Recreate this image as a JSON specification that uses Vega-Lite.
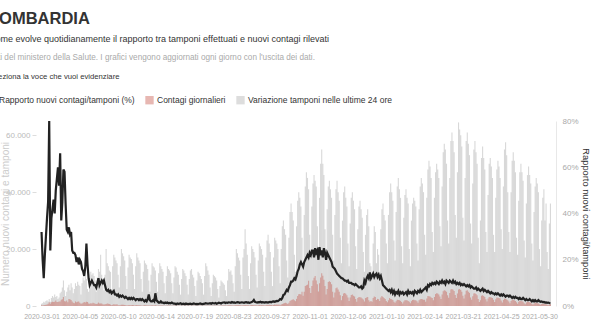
{
"$schema":"https://vega.github.io/schema/vega-lite/v6.json",
"autosize":{"type":"none"},
"padding":{"left":36,"top":121,"right":37,"bottom":24},
"width":520,"height":185,
"background":"white",
"config":{"font":"Liberation Sans, sans-serif","view":{"stroke":null}},
"title":{"text":"LOMBARDIA","subtitle":"Come evolve quotidianamente il rapporto tra tamponi effettuati e nuovi contagi rilevati","anchor":"start","frame":"group","dx":-47,"offset":8,"fontSize":16.5,"fontWeight":"bold","color":"#333","subtitleFontSize":9,"subtitleColor":"#333","subtitlePadding":8},
"data":{"values":[
{"d":"2020-03-01","t":0.8,"c":0.25,"r":32},{"d":"2020-03-02","t":1,"c":0.2,"r":20},{"d":"2020-03-03","t":1.5,"c":0.3,"r":12},{"d":"2020-03-04","t":1.2,"c":0.35,"r":22},{"d":"2020-03-05","t":1.8,"c":0.4,"r":30},{"d":"2020-03-06","t":2,"c":0.5,"r":38},{"d":"2020-03-07","t":1.6,"c":0.8,"r":45},
{"d":"2020-03-08","t":2.5,"c":1.3,"r":80},{"d":"2020-03-09","t":1.5,"c":0.8,"r":24},{"d":"2020-03-10","t":2.8,"c":1.3,"r":38},{"d":"2020-03-11","t":3.5,"c":1.5,"r":42},{"d":"2020-03-12","t":3,"c":1.4,"r":46},{"d":"2020-03-13","t":4,"c":1.5,"r":40},{"d":"2020-03-14","t":3.2,"c":1.9,"r":50},
{"d":"2020-03-15","t":3.5,"c":1.4,"r":55},{"d":"2020-03-16","t":2.5,"c":1.4,"r":60},{"d":"2020-03-17","t":3,"c":1.6,"r":52},{"d":"2020-03-18","t":4.5,"c":1.6,"r":66},{"d":"2020-03-19","t":5,"c":2.2,"r":37},{"d":"2020-03-20","t":6.5,"c":2.4,"r":45},{"d":"2020-03-21","t":9,"c":3.2,"r":59},
{"d":"2020-03-22","t":5.5,"c":1.7,"r":58},{"d":"2020-03-23","t":3.5,"c":1.6,"r":44},{"d":"2020-03-24","t":5,"c":1.9,"r":33},{"d":"2020-03-25","t":6.5,"c":1.3,"r":32},{"d":"2020-03-26","t":7.5,"c":2.5,"r":34},{"d":"2020-03-27","t":5.5,"c":2.4,"r":31},{"d":"2020-03-28","t":8,"c":2.1,"r":32},
{"d":"2020-03-29","t":6.5,"c":1.6,"r":24},{"d":"2020-03-30","t":4.5,"c":1.1,"r":23},{"d":"2020-03-31","t":6,"c":1,"r":23},
{"d":"2020-04-01","t":8,"c":1.6,"r":22},{"d":"2020-04-02","t":7,"c":1.3,"r":19},{"d":"2020-04-03","t":8.5,"c":1.5,"r":21},{"d":"2020-04-04","t":7.5,"c":1.6,"r":18},{"d":"2020-04-05","t":7,"c":1.1,"r":20},{"d":"2020-04-06","t":4,"c":0.8,"r":19},{"d":"2020-04-07","t":8,"c":0.9,"r":16},{"d":"2020-04-08","t":10,"c":1.1,"r":15},{"d":"2020-04-09","t":9,"c":1.4,"r":13},{"d":"2020-04-10","t":10.5,"c":1.2,"r":17},
{"d":"2020-04-11","t":9.5,"c":1.5,"r":27},{"d":"2020-04-12","t":6,"c":1.4,"r":18},{"d":"2020-04-13","t":5,"c":0.9,"r":12},{"d":"2020-04-14","t":9,"c":0.8,"r":9},{"d":"2020-04-15","t":12,"c":1,"r":10},{"d":"2020-04-16","t":11,"c":0.9,"r":11},{"d":"2020-04-17","t":11.5,"c":1.1,"r":10},{"d":"2020-04-18","t":10.5,"c":1,"r":9},{"d":"2020-04-19","t":9,"c":0.8,"r":9},{"d":"2020-04-20","t":5,"c":0.7,"r":8},
{"d":"2020-04-21","t":10,"c":0.8,"r":10},{"d":"2020-04-22","t":13,"c":1.2,"r":12},{"d":"2020-04-23","t":12,"c":0.9,"r":9},{"d":"2020-04-24","t":18,"c":0.9,"r":10},{"d":"2020-04-25","t":11,"c":0.9,"r":11},{"d":"2020-04-26","t":9.5,"c":0.6,"r":10},{"d":"2020-04-27","t":5.5,"c":0.5,"r":11},{"d":"2020-04-28","t":11,"c":0.6,"r":9},{"d":"2020-04-29","t":20,"c":0.7,"r":7},{"d":"2020-04-30","t":15,"c":0.9,"r":6.5},
{"d":"2020-05-01","t":14,"c":0.8,"r":7},{"d":"2020-05-02","t":12.5,"c":0.7,"r":6},{"d":"2020-05-03","t":12,"c":0.5,"r":6.5},{"d":"2020-05-04","t":6,"c":0.3,"r":5.5},{"d":"2020-05-05","t":14,"c":0.45,"r":6},{"d":"2020-05-06","t":18,"c":0.6,"r":6.5},{"d":"2020-05-07","t":17,"c":0.55,"r":5},{"d":"2020-05-08","t":16,"c":0.5,"r":5},{"d":"2020-05-09","t":15,"c":0.6,"r":4.5},{"d":"2020-05-10","t":11,"c":0.3,"r":5},
{"d":"2020-05-11","t":6.5,"c":0.25,"r":4},{"d":"2020-05-12","t":14,"c":0.3,"r":4.5},{"d":"2020-05-13","t":20,"c":0.4,"r":4},{"d":"2020-05-14","t":18.5,"c":0.45,"r":4.5},{"d":"2020-05-15","t":17.5,"c":0.4,"r":4},{"d":"2020-05-16","t":16,"c":0.35,"r":3.5},{"d":"2020-05-17","t":10.5,"c":0.3,"r":4},{"d":"2020-05-18","t":6,"c":0.2,"r":3.5},{"d":"2020-05-19","t":13.5,"c":0.3,"r":3},{"d":"2020-05-20","t":18,"c":0.35,"r":3.5},
{"d":"2020-05-21","t":17,"c":0.3,"r":3},{"d":"2020-05-22","t":16.5,"c":0.3,"r":3.5},{"d":"2020-05-23","t":15,"c":0.35,"r":3},{"d":"2020-05-24","t":11,"c":0.3,"r":3.5},{"d":"2020-05-25","t":6,"c":0.15,"r":3},{"d":"2020-05-26","t":14,"c":0.25,"r":2.5},{"d":"2020-05-27","t":18.5,"c":0.35,"r":3},{"d":"2020-05-28","t":17,"c":0.3,"r":3},{"d":"2020-05-29","t":16,"c":0.25,"r":2.5},{"d":"2020-05-30","t":15,"c":0.3,"r":3},{"d":"2020-05-31","t":9.5,"c":0.2,"r":2.5},
{"d":"2020-06-01","t":5,"c":0.1,"r":3},{"d":"2020-06-02","t":12,"c":0.2,"r":2.5},{"d":"2020-06-03","t":16,"c":0.3,"r":2},{"d":"2020-06-04","t":15,"c":0.25,"r":2.5},{"d":"2020-06-05","t":14.5,"c":0.2,"r":2},{"d":"2020-06-06","t":13,"c":0.2,"r":3},{"d":"2020-06-07","t":9,"c":0.2,"r":5},{"d":"2020-06-08","t":5,"c":0.15,"r":2.5},{"d":"2020-06-09","t":11,"c":0.2,"r":2},{"d":"2020-06-10","t":15,"c":0.25,"r":2},
{"d":"2020-06-11","t":14,"c":0.2,"r":2.5},{"d":"2020-06-12","t":13.5,"c":0.2,"r":2},{"d":"2020-06-13","t":12.5,"c":0.3,"r":5.5},{"d":"2020-06-14","t":8.5,"c":0.15,"r":2.5},{"d":"2020-06-15","t":5,"c":0.1,"r":2},{"d":"2020-06-16","t":11.5,"c":0.15,"r":1.5},{"d":"2020-06-17","t":15,"c":0.2,"r":1.5},{"d":"2020-06-18","t":14,"c":0.15,"r":2},{"d":"2020-06-19","t":13,"c":0.2,"r":1.5},{"d":"2020-06-20","t":12,"c":0.15,"r":1.5},
{"d":"2020-06-21","t":8,"c":0.1,"r":1.2},{"d":"2020-06-22","t":4.5,"c":0.08,"r":1.5},{"d":"2020-06-23","t":10.5,"c":0.12,"r":1.3},{"d":"2020-06-24","t":14,"c":0.15,"r":1.5},{"d":"2020-06-25","t":13,"c":0.13,"r":1.2},{"d":"2020-06-26","t":12.5,"c":0.15,"r":1.3},{"d":"2020-06-27","t":11.5,"c":0.12,"r":1.2},{"d":"2020-06-28","t":8,"c":0.1,"r":1.5},{"d":"2020-06-29","t":4.5,"c":0.06,"r":1.2},{"d":"2020-06-30","t":10,"c":0.1,"r":1},
{"d":"2020-07-01","t":14,"c":0.15,"r":1},{"d":"2020-07-02","t":13.5,"c":0.12,"r":0.8},{"d":"2020-07-03","t":12,"c":0.12,"r":1.1},{"d":"2020-07-04","t":11,"c":0.1,"r":0.9},{"d":"2020-07-05","t":7.5,"c":0.08,"r":1},{"d":"2020-07-06","t":4,"c":0.06,"r":1.2},{"d":"2020-07-07","t":9.5,"c":0.1,"r":0.8},{"d":"2020-07-08","t":13,"c":0.12,"r":0.9},{"d":"2020-07-09","t":12.5,"c":0.1,"r":1},{"d":"2020-07-10","t":11.5,"c":0.1,"r":0.8},
{"d":"2020-07-11","t":10.5,"c":0.1,"r":1.1},{"d":"2020-07-12","t":7.5,"c":0.08,"r":0.9},{"d":"2020-07-13","t":4,"c":0.05,"r":0.8},{"d":"2020-07-14","t":9.5,"c":0.1,"r":0.9},{"d":"2020-07-15","t":12.5,"c":0.12,"r":1},{"d":"2020-07-16","t":13,"c":0.1,"r":0.8},{"d":"2020-07-17","t":11,"c":0.11,"r":0.9},{"d":"2020-07-18","t":10,"c":0.1,"r":1.1},{"d":"2020-07-19","t":7,"c":0.08,"r":1},{"d":"2020-07-20","t":3.5,"c":0.06,"r":0.8},
{"d":"2020-07-21","t":9,"c":0.1,"r":0.9},{"d":"2020-07-22","t":12,"c":0.1,"r":0.8},{"d":"2020-07-23","t":11.5,"c":0.12,"r":1},{"d":"2020-07-24","t":10.5,"c":0.1,"r":1.1},{"d":"2020-07-25","t":9.5,"c":0.09,"r":0.9},{"d":"2020-07-26","t":8,"c":0.07,"r":0.8},{"d":"2020-07-27","t":4,"c":0.05,"r":0.9},{"d":"2020-07-28","t":10.5,"c":0.1,"r":1},{"d":"2020-07-29","t":15,"c":0.12,"r":1.2},{"d":"2020-07-30","t":14,"c":0.12,"r":1.1},{"d":"2020-07-31","t":12.5,"c":0.1,"r":1},
{"d":"2020-08-01","t":11,"c":0.1,"r":1.1},{"d":"2020-08-02","t":6.5,"c":0.08,"r":1.2},{"d":"2020-08-03","t":3.5,"c":0.06,"r":1},{"d":"2020-08-04","t":8,"c":0.1,"r":1.3},{"d":"2020-08-05","t":11,"c":0.12,"r":1.2},{"d":"2020-08-06","t":10.5,"c":0.13,"r":1.1},{"d":"2020-08-07","t":10,"c":0.12,"r":1.3},{"d":"2020-08-08","t":9,"c":0.13,"r":1},{"d":"2020-08-09","t":6,"c":0.12,"r":1.2},{"d":"2020-08-10","t":3,"c":0.08,"r":1.4},
{"d":"2020-08-11","t":7,"c":0.12,"r":1.3},{"d":"2020-08-12","t":9,"c":0.15,"r":1.1},{"d":"2020-08-13","t":8.5,"c":0.18,"r":1.4},{"d":"2020-08-14","t":8,"c":0.15,"r":1.5},{"d":"2020-08-15","t":7.5,"c":0.18,"r":1.6},{"d":"2020-08-16","t":5.5,"c":0.15,"r":1.3},{"d":"2020-08-17","t":3.5,"c":0.1,"r":1.5},{"d":"2020-08-18","t":9,"c":0.2,"r":1.4},{"d":"2020-08-19","t":13,"c":0.25,"r":1.6},{"d":"2020-08-20","t":12,"c":0.22,"r":1.5},
{"d":"2020-08-21","t":12.5,"c":0.25,"r":1.4},{"d":"2020-08-22","t":11,"c":0.2,"r":1.7},{"d":"2020-08-23","t":8,"c":0.2,"r":1.5},{"d":"2020-08-24","t":5,"c":0.15,"r":1.6},{"d":"2020-08-25","t":14,"c":0.25,"r":1.4},{"d":"2020-08-26","t":20,"c":0.3,"r":1.5},{"d":"2020-08-27","t":18.5,"c":0.28,"r":1.7},{"d":"2020-08-28","t":17,"c":0.3,"r":1.6},{"d":"2020-08-29","t":16,"c":0.25,"r":1.4},{"d":"2020-08-30","t":11,"c":0.25,"r":1.5},{"d":"2020-08-31","t":6,"c":0.15,"r":1.6},
{"d":"2020-09-01","t":17,"c":0.25,"r":1.5},{"d":"2020-09-02","t":20,"c":0.3,"r":1.4},{"d":"2020-09-03","t":27,"c":0.35,"r":1.6},{"d":"2020-09-04","t":22,"c":0.3,"r":1.7},{"d":"2020-09-05","t":18,"c":0.28,"r":1.5},{"d":"2020-09-06","t":10.5,"c":0.25,"r":1.6},{"d":"2020-09-07","t":6,"c":0.15,"r":1.4},{"d":"2020-09-08","t":15,"c":0.25,"r":1.5},{"d":"2020-09-09","t":21,"c":0.35,"r":1.7},{"d":"2020-09-10","t":20,"c":0.35,"r":2},
{"d":"2020-09-11","t":19,"c":0.3,"r":2.6},{"d":"2020-09-12","t":17,"c":0.3,"r":1.8},{"d":"2020-09-13","t":11,"c":0.3,"r":1.6},{"d":"2020-09-14","t":6.5,"c":0.15,"r":1.5},{"d":"2020-09-15","t":16,"c":0.25,"r":1.7},{"d":"2020-09-16","t":22,"c":0.35,"r":1.6},{"d":"2020-09-17","t":21,"c":0.3,"r":1.8},{"d":"2020-09-18","t":20,"c":0.3,"r":1.5},{"d":"2020-09-19","t":18,"c":0.3,"r":1.7},{"d":"2020-09-20","t":12,"c":0.3,"r":1.6},
{"d":"2020-09-21","t":7,"c":0.2,"r":1.5},{"d":"2020-09-22","t":17,"c":0.3,"r":1.7},{"d":"2020-09-23","t":23,"c":0.4,"r":1.6},{"d":"2020-09-24","t":25,"c":0.35,"r":1.5},{"d":"2020-09-25","t":22,"c":0.4,"r":1.7},{"d":"2020-09-26","t":19,"c":0.35,"r":1.8},{"d":"2020-09-27","t":12,"c":0.35,"r":1.6},{"d":"2020-09-28","t":7,"c":0.2,"r":1.9},{"d":"2020-09-29","t":17,"c":0.35,"r":2},{"d":"2020-09-30","t":24,"c":0.5,"r":1.8},
{"d":"2020-10-01","t":23,"c":0.45,"r":2},{"d":"2020-10-02","t":22,"c":0.5,"r":2.2},{"d":"2020-10-03","t":20,"c":0.45,"r":2.1},{"d":"2020-10-04","t":14,"c":0.5,"r":2.5},{"d":"2020-10-05","t":8,"c":0.3,"r":3},{"d":"2020-10-06","t":20,"c":0.55,"r":2.8},{"d":"2020-10-07","t":28,"c":0.7,"r":3.5},{"d":"2020-10-08","t":30,"c":0.9,"r":4.8},{"d":"2020-10-09","t":27,"c":1,"r":5},{"d":"2020-10-10","t":25,"c":1.1,"r":6},
{"d":"2020-10-11","t":16,"c":1,"r":7},{"d":"2020-10-12","t":10,"c":0.7,"r":6.5},{"d":"2020-10-13","t":24,"c":1.1,"r":8},{"d":"2020-10-14","t":33,"c":1.8,"r":9},{"d":"2020-10-15","t":36,"c":2,"r":10.5},{"d":"2020-10-16","t":33,"c":2.2,"r":10.5},{"d":"2020-10-17","t":30,"c":2.4,"r":11},{"d":"2020-10-18","t":18,"c":2,"r":12},{"d":"2020-10-19","t":12,"c":1.7,"r":11.5},{"d":"2020-10-20","t":28,"c":2.5,"r":13},
{"d":"2020-10-21","t":37,"c":3.5,"r":15},{"d":"2020-10-22","t":40,"c":4.1,"r":16},{"d":"2020-10-23","t":38,"c":4.2,"r":18},{"d":"2020-10-24","t":35,"c":4,"r":19},{"d":"2020-10-25","t":24,"c":5,"r":18},{"d":"2020-10-26","t":15,"c":3.6,"r":17},{"d":"2020-10-27","t":32,"c":5,"r":19},{"d":"2020-10-28","t":42,"c":7,"r":20},{"d":"2020-10-29","t":47,"c":7.3,"r":21},{"d":"2020-10-30","t":45,"c":7.5,"r":22},{"d":"2020-10-31","t":41,"c":8.9,"r":21},
{"d":"2020-11-01","t":25,"c":6.3,"r":23},{"d":"2020-11-02","t":17,"c":4.6,"r":22},{"d":"2020-11-03","t":35,"c":7,"r":24},{"d":"2020-11-04","t":43,"c":9,"r":24},{"d":"2020-11-05","t":46,"c":9.9,"r":21},{"d":"2020-11-06","t":44,"c":10.5,"r":25},{"d":"2020-11-07","t":42,"c":9,"r":23},{"d":"2020-11-08","t":28,"c":7.6,"r":24},{"d":"2020-11-09","t":20,"c":5.1,"r":20},{"d":"2020-11-10","t":38,"c":8,"r":25.5},
{"d":"2020-11-11","t":50,"c":10,"r":22},{"d":"2020-11-12","t":55,"c":11.5,"r":24},{"d":"2020-11-13","t":50,"c":10.6,"r":21},{"d":"2020-11-14","t":46,"c":9.2,"r":25},{"d":"2020-11-15","t":27,"c":7,"r":23},{"d":"2020-11-16","t":18,"c":4,"r":20},{"d":"2020-11-17","t":34,"c":6,"r":23},{"d":"2020-11-18","t":42,"c":8.4,"r":22},{"d":"2020-11-19","t":44,"c":8.7,"r":21},{"d":"2020-11-20","t":41,"c":8.4,"r":20},
{"d":"2020-11-21","t":38,"c":7.6,"r":19},{"d":"2020-11-22","t":25,"c":5,"r":17},{"d":"2020-11-23","t":16,"c":3,"r":16.5},{"d":"2020-11-24","t":32,"c":4.7,"r":16},{"d":"2020-11-25","t":41,"c":6.2,"r":15},{"d":"2020-11-26","t":44,"c":6.5,"r":14},{"d":"2020-11-27","t":40,"c":5.8,"r":13.5},{"d":"2020-11-28","t":37,"c":5,"r":13},{"d":"2020-11-29","t":24,"c":3.8,"r":12.5},{"d":"2020-11-30","t":15,"c":2,"r":12},
{"d":"2020-12-01","t":30,"c":3.5,"r":12},{"d":"2020-12-02","t":40,"c":4.4,"r":11.5},{"d":"2020-12-03","t":42,"c":4.6,"r":11},{"d":"2020-12-04","t":38,"c":4.3,"r":11},{"d":"2020-12-05","t":35,"c":3.8,"r":10.5},{"d":"2020-12-06","t":22,"c":3,"r":11},{"d":"2020-12-07","t":14,"c":1.8,"r":10},{"d":"2020-12-08","t":29,"c":3,"r":10},{"d":"2020-12-09","t":38,"c":3.9,"r":10},{"d":"2020-12-10","t":40,"c":4,"r":9.5},
{"d":"2020-12-11","t":37,"c":3.6,"r":9.5},{"d":"2020-12-12","t":34,"c":3.3,"r":9},{"d":"2020-12-13","t":21,"c":2.5,"r":9.5},{"d":"2020-12-14","t":13,"c":1.5,"r":9},{"d":"2020-12-15","t":27,"c":2.8,"r":8.5},{"d":"2020-12-16","t":35,"c":3.2,"r":8},{"d":"2020-12-17","t":37,"c":3.1,"r":8},{"d":"2020-12-18","t":34,"c":3,"r":8.5},{"d":"2020-12-19","t":31,"c":2.6,"r":7.5},{"d":"2020-12-20","t":19,"c":2.3,"r":8},
{"d":"2020-12-21","t":12,"c":1.6,"r":11},{"d":"2020-12-22","t":25,"c":2.8,"r":10},{"d":"2020-12-23","t":32,"c":3,"r":12},{"d":"2020-12-24","t":34,"c":3.2,"r":13},{"d":"2020-12-25","t":28,"c":2,"r":12},{"d":"2020-12-26","t":15,"c":1.5,"r":14.5},{"d":"2020-12-27","t":14,"c":1.8,"r":12},{"d":"2020-12-28","t":10,"c":1.5,"r":13},{"d":"2020-12-29","t":22,"c":2.8,"r":14},{"d":"2020-12-30","t":28,"c":3.3,"r":12.5},{"d":"2020-12-31","t":26,"c":3.2,"r":13.5},
{"d":"2021-01-01","t":15,"c":2.1,"r":14},{"d":"2021-01-02","t":20,"c":2.5,"r":12.5},{"d":"2021-01-03","t":18,"c":2.4,"r":13.5},{"d":"2021-01-04","t":12,"c":1.8,"r":12},{"d":"2021-01-05","t":27,"c":3,"r":13},{"d":"2021-01-06","t":34,"c":3.5,"r":11},{"d":"2021-01-07","t":36,"c":3.2,"r":9},{"d":"2021-01-08","t":32,"c":2.8,"r":8.5},{"d":"2021-01-09","t":30,"c":2.5,"r":8},{"d":"2021-01-10","t":22,"c":1.8,"r":7.5},
{"d":"2021-01-11","t":15,"c":1.3,"r":7},{"d":"2021-01-12","t":32,"c":2,"r":6.5},{"d":"2021-01-13","t":40,"c":2.8,"r":7},{"d":"2021-01-14","t":43,"c":2.5,"r":6},{"d":"2021-01-15","t":40,"c":2.4,"r":7},{"d":"2021-01-16","t":37,"c":2.1,"r":5.5},{"d":"2021-01-17","t":23,"c":1.5,"r":6.5},{"d":"2021-01-18","t":16,"c":1.1,"r":5},{"d":"2021-01-19","t":33,"c":1.7,"r":6},{"d":"2021-01-20","t":42,"c":2.2,"r":5.5},
{"d":"2021-01-21","t":45,"c":2.1,"r":6.5},{"d":"2021-01-22","t":41,"c":2,"r":5},{"d":"2021-01-23","t":38,"c":1.8,"r":6},{"d":"2021-01-24","t":21,"c":1.4,"r":5.5},{"d":"2021-01-25","t":15,"c":0.9,"r":6},{"d":"2021-01-26","t":31,"c":1.6,"r":5},{"d":"2021-01-27","t":39,"c":2,"r":5.5},{"d":"2021-01-28","t":41,"c":2,"r":6},{"d":"2021-01-29","t":38,"c":2,"r":5},{"d":"2021-01-30","t":36,"c":1.8,"r":6.5},{"d":"2021-01-31","t":20,"c":1.5,"r":5.5},
{"d":"2021-02-01","t":14,"c":1,"r":6},{"d":"2021-02-02","t":30,"c":1.7,"r":5.5},{"d":"2021-02-03","t":36,"c":2.1,"r":6},{"d":"2021-02-04","t":38,"c":2.2,"r":5},{"d":"2021-02-05","t":37,"c":2,"r":6.5},{"d":"2021-02-06","t":35,"c":2,"r":6},{"d":"2021-02-07","t":22,"c":1.7,"r":5.5},{"d":"2021-02-08","t":16,"c":1.1,"r":6.5},{"d":"2021-02-09","t":34,"c":2,"r":6},{"d":"2021-02-10","t":42,"c":2.4,"r":7},
{"d":"2021-02-11","t":45,"c":2.5,"r":6},{"d":"2021-02-12","t":43,"c":2.4,"r":6.5},{"d":"2021-02-13","t":40,"c":2.2,"r":7},{"d":"2021-02-14","t":25,"c":2.2,"r":7.5},{"d":"2021-02-15","t":18,"c":1.5,"r":8},{"d":"2021-02-16","t":38,"c":2.6,"r":7},{"d":"2021-02-17","t":48,"c":3.5,"r":9},{"d":"2021-02-18","t":51,"c":3.4,"r":8.5},{"d":"2021-02-19","t":49,"c":3.3,"r":9.5},{"d":"2021-02-20","t":45,"c":3,"r":9},
{"d":"2021-02-21","t":26,"c":2.8,"r":10},{"d":"2021-02-22","t":19,"c":2,"r":9.5},{"d":"2021-02-23","t":38,"c":3.2,"r":10},{"d":"2021-02-24","t":47,"c":4.2,"r":9.5},{"d":"2021-02-25","t":50,"c":4.5,"r":10.5},{"d":"2021-02-26","t":48,"c":4.4,"r":10},{"d":"2021-02-27","t":45,"c":4,"r":9.5},{"d":"2021-02-28","t":28,"c":3.3,"r":10.5},
{"d":"2021-03-01","t":21,"c":2.5,"r":10},{"d":"2021-03-02","t":42,"c":4,"r":11},{"d":"2021-03-03","t":54,"c":5.2,"r":10},{"d":"2021-03-04","t":57,"c":5.5,"r":10.5},{"d":"2021-03-05","t":55,"c":5.4,"r":9.5},{"d":"2021-03-06","t":50,"c":5,"r":11},{"d":"2021-03-07","t":30,"c":3.8,"r":10.5},{"d":"2021-03-08","t":22,"c":2.9,"r":10},{"d":"2021-03-09","t":45,"c":4.6,"r":11},{"d":"2021-03-10","t":58,"c":5.8,"r":10.5},
{"d":"2021-03-11","t":61,"c":6,"r":10},{"d":"2021-03-12","t":58,"c":5.7,"r":11},{"d":"2021-03-13","t":54,"c":5.3,"r":10},{"d":"2021-03-14","t":32,"c":3.9,"r":10.5},{"d":"2021-03-15","t":24,"c":2.8,"r":9.5},{"d":"2021-03-16","t":47,"c":4.4,"r":10},{"d":"2021-03-17","t":64.5,"c":5.8,"r":9.5},{"d":"2021-03-18","t":62,"c":6,"r":10},{"d":"2021-03-19","t":60,"c":5.6,"r":9},{"d":"2021-03-20","t":56,"c":5,"r":9.5},
{"d":"2021-03-21","t":31,"c":3.6,"r":9},{"d":"2021-03-22","t":23,"c":2.6,"r":9.5},{"d":"2021-03-23","t":45,"c":4,"r":9},{"d":"2021-03-24","t":58,"c":5.4,"r":8.5},{"d":"2021-03-25","t":61,"c":5.5,"r":9},{"d":"2021-03-26","t":57,"c":5,"r":8.5},{"d":"2021-03-27","t":53,"c":4.6,"r":9},{"d":"2021-03-28","t":29,"c":3,"r":8},{"d":"2021-03-29","t":22,"c":2.2,"r":8.5},{"d":"2021-03-30","t":43,"c":3.4,"r":8},{"d":"2021-03-31","t":55,"c":4.4,"r":7.5},
{"d":"2021-04-01","t":58,"c":4.5,"r":7.5},{"d":"2021-04-02","t":54,"c":4.2,"r":8},{"d":"2021-04-03","t":50,"c":3.8,"r":7},{"d":"2021-04-04","t":24,"c":2.5,"r":7.5},{"d":"2021-04-05","t":15,"c":1.4,"r":7},{"d":"2021-04-06","t":30,"c":2,"r":6.5},{"d":"2021-04-07","t":52,"c":3.6,"r":7},{"d":"2021-04-08","t":56,"c":3.8,"r":7.5},{"d":"2021-04-09","t":52,"c":3.5,"r":6.5},{"d":"2021-04-10","t":48,"c":3.2,"r":7},
{"d":"2021-04-11","t":26,"c":2.4,"r":6.5},{"d":"2021-04-12","t":19,"c":1.6,"r":6},{"d":"2021-04-13","t":39,"c":2.6,"r":6.5},{"d":"2021-04-14","t":50,"c":3.2,"r":6},{"d":"2021-04-15","t":52,"c":3.1,"r":5.5},{"d":"2021-04-16","t":49,"c":3,"r":6},{"d":"2021-04-17","t":45,"c":2.8,"r":5.5},{"d":"2021-04-18","t":25,"c":2.2,"r":5.5},{"d":"2021-04-19","t":19,"c":1.4,"r":5},{"d":"2021-04-20","t":38,"c":2.4,"r":5.5},
{"d":"2021-04-21","t":48,"c":3,"r":5},{"d":"2021-04-22","t":51,"c":2.9,"r":5.5},{"d":"2021-04-23","t":49,"c":2.8,"r":5},{"d":"2021-04-24","t":45,"c":2.6,"r":4.5},{"d":"2021-04-25","t":27,"c":1.9,"r":5},{"d":"2021-04-26","t":20,"c":1.2,"r":4.5},{"d":"2021-04-27","t":42,"c":2.1,"r":5},{"d":"2021-04-28","t":55,"c":2.6,"r":4.5},{"d":"2021-04-29","t":57.5,"c":2.5,"r":4},{"d":"2021-04-30","t":53,"c":2.3,"r":4.5},
{"d":"2021-05-01","t":40,"c":2,"r":4.5},{"d":"2021-05-02","t":26,"c":1.6,"r":4},{"d":"2021-05-03","t":19,"c":1,"r":4.5},{"d":"2021-05-04","t":40,"c":1.8,"r":4},{"d":"2021-05-05","t":51,"c":2.2,"r":3.5},{"d":"2021-05-06","t":54,"c":2.2,"r":4},{"d":"2021-05-07","t":51,"c":2,"r":3.5},{"d":"2021-05-08","t":47,"c":1.8,"r":4},{"d":"2021-05-09","t":24,"c":1.3,"r":3.5},{"d":"2021-05-10","t":18,"c":0.8,"r":3.5},
{"d":"2021-05-11","t":37,"c":1.5,"r":3},{"d":"2021-05-12","t":47,"c":1.8,"r":3.5},{"d":"2021-05-13","t":50,"c":1.8,"r":3},{"d":"2021-05-14","t":47,"c":1.7,"r":3},{"d":"2021-05-15","t":44,"c":1.5,"r":3.5},{"d":"2021-05-16","t":23,"c":1,"r":3},{"d":"2021-05-17","t":17,"c":0.6,"r":2.5},{"d":"2021-05-18","t":36,"c":1.2,"r":3},{"d":"2021-05-19","t":46,"c":1.5,"r":2.5},{"d":"2021-05-20","t":49,"c":1.4,"r":2.5},
{"d":"2021-05-21","t":46,"c":1.3,"r":3},{"d":"2021-05-22","t":43,"c":1.2,"r":2.5},{"d":"2021-05-23","t":22,"c":0.8,"r":2},{"d":"2021-05-24","t":16,"c":0.5,"r":2.5},{"d":"2021-05-25","t":33,"c":0.9,"r":2},{"d":"2021-05-26","t":42,"c":1.1,"r":2.5},{"d":"2021-05-27","t":45,"c":1.1,"r":2},{"d":"2021-05-28","t":43,"c":1,"r":2},{"d":"2021-05-29","t":40,"c":0.9,"r":2.5},{"d":"2021-05-30","t":20,"c":0.6,"r":2},{"d":"2021-05-31","t":14,"c":0.4,"r":1.8},
{"d":"2021-06-01","t":30,"c":0.7,"r":2},{"d":"2021-06-02","t":38,"c":0.8,"r":1.7},{"d":"2021-06-03","t":41,"c":0.8,"r":1.8},{"d":"2021-06-04","t":30,"c":0.6,"r":1.5},{"d":"2021-06-05","t":36,"c":0.6,"r":1.6},{"d":"2021-06-06","t":19,"c":0.4,"r":1.4},{"d":"2021-06-07","t":13,"c":0.3,"r":1.5},{"d":"2021-06-08","t":29,"c":0.5,"r":1.3},{"d":"2021-06-09","t":36,"c":0.6,"r":1.2}
]},
"encoding":{
"x":{"field":"d","type":"temporal","scale":{"type":"utc","domain":[{"year":2020,"month":2,"date":29,"hours":12,"utc":true},{"year":2021,"month":6,"date":9,"hours":12,"utc":true}]},
"axis":{"values":[{"year":2020,"month":3,"date":1,"utc":true},{"year":2020,"month":4,"date":5,"utc":true},{"year":2020,"month":5,"date":10,"utc":true},{"year":2020,"month":6,"date":14,"utc":true},{"year":2020,"month":7,"date":19,"utc":true},{"year":2020,"month":8,"date":23,"utc":true},{"year":2020,"month":9,"date":27,"utc":true},{"year":2020,"month":11,"date":1,"utc":true},{"year":2020,"month":12,"date":6,"utc":true},{"year":2021,"month":1,"date":10,"utc":true},{"year":2021,"month":2,"date":14,"utc":true},{"year":2021,"month":3,"date":21,"utc":true},{"year":2021,"month":4,"date":25,"utc":true},{"year":2021,"month":5,"date":30,"utc":true}],
"format":"%Y-%m-%d","labelOverlap":false,"labelFlush":false,"labelBound":false,"labelFontSize":7,"labelColor":"#aaa","labelPadding":6,"ticks":false,"domain":false,"grid":false,
"title":"Dati del ministero della Salute. I grafici vengono aggiornati ogni giorno con l'uscita dei dati.","titleX":-49,"titleY":-249,"titleAlign":"left","titleAngle":0,"titleBaseline":"middle","titleColor":"#aaa","titleFontSize":8.2,"titleFontWeight":"normal","titleLimit":1000}}
},
"layer":[
{"layer":[
{"mark":{"type":"bar","size":1.1,"opacity":0.45},
"encoding":{"y":{"field":"t","type":"quantitative","scale":{"domain":[0,65]},
"axis":{"values":[0,10,20,30,40,50,60],"labelExpr":"datum.value == 0 ? '0' : datum.value + '.000'","labelFontSize":8,"labelColor":"#bbb","tickSize":4,"tickColor":"#ddd","labelPadding":2,"domain":false,"grid":false,
"title":"Numero nuovi contagi e tamponi","titleColor":"#ccc","titleFontSize":10,"titleFontWeight":"normal","titleX":-31,"titleY":92.5,"titleAngle":-90,"titleAlign":"center","titleBaseline":"middle"}},
"color":{"datum":"Variazione tamponi nelle ultime 24 ore","type":"nominal","scale":{"domain":["Rapporto nuovi contagi/tamponi (%)","Contagi giornalieri","Variazione tamponi nelle ultime 24 ore"],"range":["#222222","#c24b3f","#a9a9a9"]},
"legend":{"orient":"none","legendX":-49,"legendY":-48,"direction":"horizontal","title":"Seleziona la voce che vuoi evidenziare","titleFontSize":7.7,"titleColor":"#333","titleFontWeight":"normal","titlePadding":15,"titleLimit":500,"labelFontSize":8.5,"labelColor":"#333","labelLimit":400,"labelOffset":3,"symbolType":"square","symbolSize":70,"symbolStrokeWidth":0,"symbolOpacity":1,"columnPadding":10,"padding":0}}}},
{"mark":{"type":"bar","size":1.1,"opacity":0.4},
"encoding":{"y":{"field":"c","type":"quantitative"},"color":{"datum":"Contagi giornalieri","type":"nominal"}}}
]},
{"mark":{"type":"line","strokeWidth":2.2,"interpolate":"linear"},
"encoding":{"y":{"field":"r","type":"quantitative","scale":{"domain":[0,80]},
"axis":{"orient":"right","values":[0,20,40,60,80],"labelExpr":"datum.value + '%'","labelFontSize":8,"labelColor":"#aaa","ticks":false,"domain":true,"domainColor":"#e8e8e8","labelPadding":6,"grid":false,
"title":"Rapporto nuovi contagi/tamponi","titleColor":"#333","titleFontSize":9.3,"titleFontWeight":"normal","titleAngle":90,"titleX":29,"titleY":92.5,"titleAlign":"center","titleBaseline":"middle"}},
"color":{"datum":"Rapporto nuovi contagi/tamponi (%)","type":"nominal"}}}
],
"resolve":{"scale":{"y":"independent"}}
}
